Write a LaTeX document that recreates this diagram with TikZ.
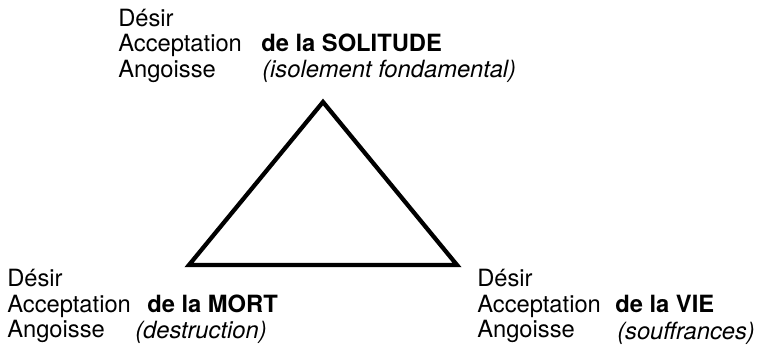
\documentclass[tikz,border=0pt]{standalone}
\usepackage{fontspec}
\setmainfont{TeX Gyre Heros}
\tikzset{
  lbl/.style={anchor=base west,inner sep=0pt,font=\fontsize{17.8}{20}\selectfont},
  bld/.style={lbl,font=\fontsize{17.8}{20}\selectfont\bfseries},
  itl/.style={lbl,font=\fontsize{17.8}{20}\selectfont\itshape}
}
\begin{document}
\begin{tikzpicture}[x=0.75pt,y=-0.75pt]
\useasboundingbox (0,0) rectangle (758,348);
% --- triangle ---
\coordinate (sol) at (323,102);
\coordinate (mort) at (189,265);
\coordinate (vie) at (457,265);
\draw[line width=3.2pt,line join=miter] (sol) -- (vie) -- (mort) -- cycle;
% --- top: solitude ---
\node[lbl] (solD) at (118,27) {Désir};
\node[lbl] (solAc) at (118,52) {Acceptation};
\node[lbl] (solAn) at (118,78) {Angoisse};
\node[bld] (solT) at (261,52) {de la SOLITUDE};
\node[itl] (solS) at (262,78) {(isolement fondamental)};
% --- bottom left: mort ---
\node[lbl] (mortD) at (7,287) {Désir};
\node[lbl] (mortAc) at (7,313) {Acceptation};
\node[lbl] (mortAn) at (7,338) {Angoisse};
\node[bld] (mortT) at (147,313) {de la MORT};
\node[itl] (mortS) at (135,339) {(destruction)};
% --- bottom right: vie ---
\node[lbl] (vieD) at (477,287) {Désir};
\node[lbl] (vieAc) at (477,313) {Acceptation};
\node[lbl] (vieAn) at (477,338) {Angoisse};
\node[bld] (vieT) at (615,313) {de la VIE};
\node[itl] (vieS) at (617,340) {(souffrances)};
\end{tikzpicture}
\end{document}
